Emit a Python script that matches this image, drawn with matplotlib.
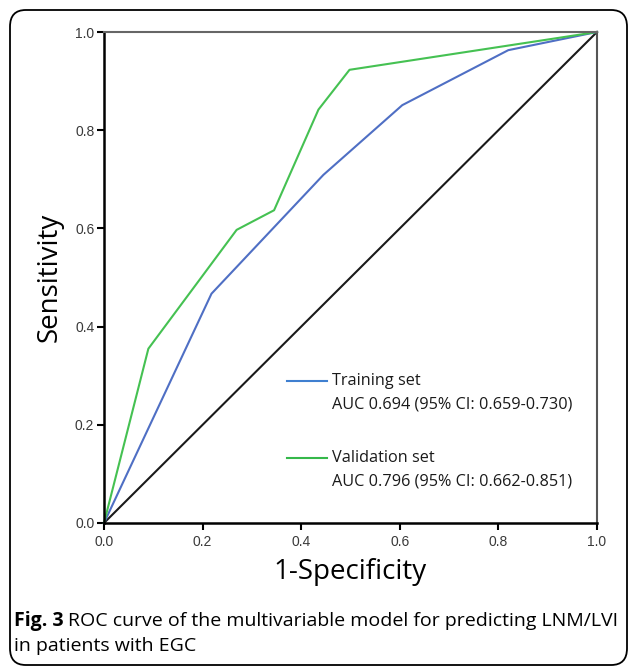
import numpy as np
import matplotlib
matplotlib.use("Agg")
import matplotlib.pyplot as plt
from matplotlib.patches import FancyBboxPatch
from matplotlib.lines import Line2D

# ROC points
train_fpr = [0.0, 0.218, 0.445, 0.605, 0.820, 1.0]
train_tpr = [0.0, 0.467, 0.709, 0.851, 0.963, 1.0]
valid_fpr = [0.0, 0.090, 0.269, 0.345, 0.435, 0.498, 1.0]
valid_tpr = [0.0, 0.355, 0.597, 0.637, 0.842, 0.923, 1.0]
ref_line = [0.0, 1.0]
ticks = [0.0, 0.2, 0.4, 0.6, 0.8, 1.0]
labels = ["Training set", "Validation set"]
auc_text = ["AUC 0.694 (95% CI: 0.659-0.730)", "AUC 0.796 (95% CI: 0.662-0.851)"]

blue = "#4f6fc4"
green = "#45c152"
leg_blue = "#3f7fd0"
leg_green = "#35b84a"

fig = plt.figure(figsize=(6.3, 6.66), dpi=100)

# rounded border round whole figure
box = FancyBboxPatch((10 / 630, 1 - 665 / 666), 617 / 630, 655 / 666,
                     boxstyle="round,pad=0,rounding_size=0.025",
                     transform=fig.transFigure, fill=False,
                     edgecolor="black", linewidth=1.3)
fig.patches.append(box)

ax = fig.add_axes([104 / 630, 1 - 523 / 666, 493 / 630, 491 / 666])
ax.plot(ref_line, ref_line, color="#1a1a1a", lw=1.5, clip_on=False)
ax.plot(train_fpr, train_tpr, color=blue, lw=1.5, clip_on=False)
ax.plot(valid_fpr, valid_tpr, color=green, lw=1.5, clip_on=False)

ax.set_xlim(0, 1)
ax.set_ylim(0, 1)
ax.set_xticks(ticks)
ax.set_yticks(ticks)
ax.set_xticklabels([f"{t:.1f}" for t in ticks])
ax.set_yticklabels([f"{t:.1f}" for t in ticks])
ax.tick_params(direction="out", length=5, width=1.5, color="black",
               labelsize=10, labelcolor="#3a3a3a", pad=2)
ax.tick_params(axis="x", pad=4)
for lab in ax.get_xticklabels() + ax.get_yticklabels():
    lab.set_family("Liberation Sans")

ax.spines["left"].set_linewidth(1.8)
ax.spines["bottom"].set_linewidth(1.8)
ax.spines["top"].set_color("#666666")
ax.spines["right"].set_color("#555555")
ax.spines["top"].set_linewidth(1.5)
ax.spines["right"].set_linewidth(1.5)

ax.set_xlabel("1-Specificity", family="Open Sans", fontsize=20, labelpad=6)
ax.set_ylabel("Sensitivity", family="Open Sans", fontsize=20, labelpad=8)

# legend block
for i, (lab, auc, c) in enumerate(zip(labels, auc_text, [leg_blue, leg_green])):
    y = [0.289, 0.132][i]
    ax.add_line(Line2D([0.371, 0.452], [y, y], color=c, lw=1.5,
                       transform=ax.transAxes))
    ax.text(0.462, y, lab, transform=ax.transAxes, fontsize=11.7,
            family="Open Sans", va="center", color="#1a1a1a")
    ax.text(0.462, y - 0.047, auc, transform=ax.transAxes, fontsize=11.7,
            family="Open Sans", va="center", color="#1a1a1a")

# caption
t1 = fig.text(14 / 630, 1 - 621 / 666, "Fig. 3", fontsize=14,
              family="Open Sans", weight="bold", va="center")
fig.canvas.draw()
bb = t1.get_window_extent()
fig.text(bb.x1 / 630 + 4 / 630, 1 - 621 / 666,
         "ROC curve of the multivariable model for predicting LNM/LVI",
         fontsize=14, family="Open Sans", va="center")
fig.text(14 / 630, 1 - 646 / 666, "in patients with EGC", fontsize=14,
         family="Open Sans", va="center")

fig.savefig("out.png", dpi=100)
